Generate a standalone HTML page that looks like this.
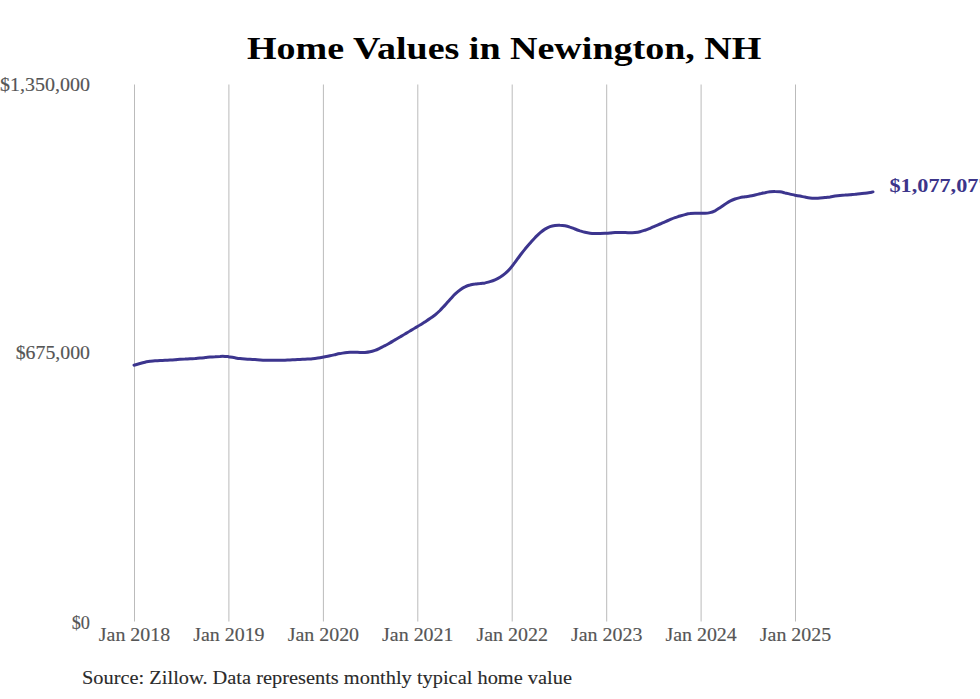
<!DOCTYPE html>
<html><head><meta charset="utf-8"><style>
html,body{margin:0;padding:0;background:#fff;width:980px;height:699px;overflow:hidden}
svg{display:block}
text{font-family:"Liberation Serif",serif}
</style></head><body>
<svg width="980" height="699" viewBox="0 0 980 699">
<rect width="980" height="699" fill="#fff"/>
<text x="247" y="59.3" font-size="32" font-weight="bold" fill="#000" textLength="514.4" lengthAdjust="spacingAndGlyphs">Home Values in Newington, NH</text>
<g stroke="#bbbbbb" stroke-width="1">
<line x1="134.5" y1="84.5" x2="134.5" y2="621.5"/>
<line x1="228.9" y1="84.5" x2="228.9" y2="621.5"/>
<line x1="323.4" y1="84.5" x2="323.4" y2="621.5"/>
<line x1="417.8" y1="84.5" x2="417.8" y2="621.5"/>
<line x1="512.2" y1="84.5" x2="512.2" y2="621.5"/>
<line x1="606.7" y1="84.5" x2="606.7" y2="621.5"/>
<line x1="701.1" y1="84.5" x2="701.1" y2="621.5"/>
<line x1="795.5" y1="84.5" x2="795.5" y2="621.5"/>
</g>
<g font-size="18.4" fill="#555555" stroke="#555555" stroke-width="0.15">
<text x="90" y="90.6" text-anchor="end" textLength="90" lengthAdjust="spacingAndGlyphs">$1,350,000</text>
<text x="90" y="358.6" text-anchor="end" textLength="74.3" lengthAdjust="spacingAndGlyphs">$675,000</text>
<text x="90" y="628.6" text-anchor="end" textLength="18.3" lengthAdjust="spacingAndGlyphs">$0</text>
<text x="134.5" y="640.7" text-anchor="middle" textLength="71.4" lengthAdjust="spacingAndGlyphs">Jan 2018</text>
<text x="228.9" y="640.7" text-anchor="middle" textLength="71.4" lengthAdjust="spacingAndGlyphs">Jan 2019</text>
<text x="323.4" y="640.7" text-anchor="middle" textLength="71.4" lengthAdjust="spacingAndGlyphs">Jan 2020</text>
<text x="417.8" y="640.7" text-anchor="middle" textLength="71.4" lengthAdjust="spacingAndGlyphs">Jan 2021</text>
<text x="512.2" y="640.7" text-anchor="middle" textLength="71.4" lengthAdjust="spacingAndGlyphs">Jan 2022</text>
<text x="606.7" y="640.7" text-anchor="middle" textLength="71.4" lengthAdjust="spacingAndGlyphs">Jan 2023</text>
<text x="701.1" y="640.7" text-anchor="middle" textLength="71.4" lengthAdjust="spacingAndGlyphs">Jan 2024</text>
<text x="795.5" y="640.7" text-anchor="middle" textLength="71.4" lengthAdjust="spacingAndGlyphs">Jan 2025</text>
</g>
<path d="M134.0,365.2 C135.0,364.9 138.2,364.0 140.0,363.5 C141.8,363.0 143.3,362.6 145.0,362.2 C146.7,361.8 148.3,361.6 150.0,361.3 C151.7,361.1 153.3,360.9 155.0,360.8 C156.7,360.7 158.3,360.6 160.0,360.5 C161.7,360.4 163.3,360.4 165.0,360.3 C166.7,360.2 168.3,360.2 170.0,360.1 C171.7,360.0 173.3,359.8 175.0,359.7 C176.7,359.6 178.3,359.4 180.0,359.3 C181.7,359.2 183.3,359.1 185.0,359.1 C186.7,359.0 188.3,358.9 190.0,358.8 C191.7,358.7 193.3,358.7 195.0,358.6 C196.7,358.4 198.3,358.3 200.0,358.1 C201.7,358.0 203.3,357.8 205.0,357.6 C206.7,357.4 208.3,357.3 210.0,357.1 C211.7,356.9 213.3,356.8 215.0,356.7 C216.7,356.5 218.3,356.4 220.0,356.4 C221.7,356.3 223.7,356.3 225.0,356.4 C226.3,356.4 227.2,356.5 228.0,356.6 C228.8,356.7 228.8,356.9 230.0,357.1 C231.2,357.3 233.3,357.6 235.0,357.8 C236.7,358.1 238.3,358.4 240.0,358.6 C241.7,358.8 243.3,358.9 245.0,359.0 C246.7,359.1 248.3,359.2 250.0,359.3 C251.7,359.4 253.3,359.5 255.0,359.6 C256.7,359.8 258.3,359.9 260.0,360.0 C261.7,360.1 263.3,360.2 265.0,360.2 C266.7,360.3 268.3,360.3 270.0,360.3 C271.7,360.4 273.3,360.3 275.0,360.3 C276.7,360.3 278.3,360.3 280.0,360.3 C281.7,360.3 283.3,360.2 285.0,360.2 C286.7,360.1 288.3,360.1 290.0,360.0 C291.7,359.9 293.3,359.8 295.0,359.7 C296.7,359.6 298.3,359.6 300.0,359.5 C301.7,359.4 303.3,359.3 305.0,359.2 C306.7,359.1 308.3,359.0 310.0,358.9 C311.7,358.7 313.3,358.6 315.0,358.4 C316.7,358.2 318.3,358.0 320.0,357.7 C321.7,357.4 323.3,357.1 325.0,356.8 C326.7,356.5 328.3,356.2 330.0,355.8 C331.7,355.5 333.3,355.1 335.0,354.7 C336.7,354.3 338.3,353.9 340.0,353.6 C341.7,353.2 343.3,352.9 345.0,352.7 C346.7,352.5 348.3,352.4 350.0,352.3 C351.7,352.3 353.3,352.3 355.0,352.3 C356.7,352.3 358.3,352.4 360.0,352.4 C361.7,352.4 363.3,352.5 365.0,352.4 C366.7,352.3 368.3,352.2 370.0,351.8 C371.7,351.5 373.3,351.0 375.0,350.4 C376.7,349.8 378.3,349.0 380.0,348.2 C381.7,347.4 383.3,346.5 385.0,345.6 C386.7,344.8 388.3,343.8 390.0,342.9 C391.7,341.9 393.3,340.9 395.0,339.9 C396.7,339.0 398.3,338.0 400.0,337.0 C401.7,336.0 403.3,335.0 405.0,334.0 C406.7,333.0 408.3,332.0 410.0,331.0 C411.7,330.0 413.3,329.0 415.0,328.0 C416.7,327.0 418.3,326.0 420.0,325.0 C421.7,324.0 423.3,322.9 425.0,321.9 C426.7,320.8 428.3,319.8 430.0,318.6 C431.7,317.5 433.3,316.3 435.0,315.0 C436.7,313.6 438.3,312.1 440.0,310.5 C441.7,308.8 443.3,306.9 445.0,305.1 C446.7,303.3 448.3,301.3 450.0,299.5 C451.7,297.7 453.3,295.8 455.0,294.2 C456.7,292.6 458.3,291.1 460.0,289.9 C461.7,288.7 463.3,287.7 465.0,286.9 C466.7,286.0 468.3,285.4 470.0,285.0 C471.7,284.5 473.3,284.3 475.0,284.1 C476.7,283.8 478.3,283.8 480.0,283.6 C481.7,283.3 483.3,283.2 485.0,282.9 C486.7,282.5 488.3,282.2 490.0,281.6 C491.7,281.1 493.3,280.6 495.0,279.8 C496.7,279.1 498.3,278.3 500.0,277.2 C501.7,276.2 503.3,275.1 505.0,273.7 C506.7,272.3 508.3,270.7 510.0,268.8 C511.7,266.9 513.3,264.6 515.0,262.4 C516.7,260.2 518.3,257.7 520.0,255.5 C521.7,253.3 523.3,251.2 525.0,249.1 C526.7,247.1 528.3,245.2 530.0,243.3 C531.7,241.4 533.3,239.4 535.0,237.7 C536.7,236.0 538.3,234.3 540.0,232.8 C541.7,231.4 543.3,230.1 545.0,229.1 C546.7,228.1 548.3,227.2 550.0,226.6 C551.7,226.0 553.3,225.7 555.0,225.5 C556.7,225.3 558.3,225.2 560.0,225.3 C561.7,225.3 563.3,225.4 565.0,225.7 C566.7,226.0 568.3,226.5 570.0,227.1 C571.7,227.6 573.3,228.4 575.0,229.0 C576.7,229.7 578.3,230.3 580.0,230.9 C581.7,231.4 583.3,231.9 585.0,232.3 C586.7,232.7 588.3,233.0 590.0,233.2 C591.7,233.4 593.3,233.4 595.0,233.4 C596.7,233.4 598.3,233.4 600.0,233.4 C601.7,233.4 603.3,233.4 605.0,233.3 C606.7,233.2 608.3,233.1 610.0,232.9 C611.7,232.8 613.3,232.6 615.0,232.5 C616.7,232.4 618.3,232.4 620.0,232.4 C621.7,232.4 623.3,232.5 625.0,232.5 C626.7,232.6 628.3,232.7 630.0,232.7 C631.7,232.7 633.3,232.8 635.0,232.6 C636.7,232.4 638.3,232.2 640.0,231.8 C641.7,231.4 643.3,230.8 645.0,230.2 C646.7,229.7 648.3,229.0 650.0,228.3 C651.7,227.6 653.3,226.8 655.0,226.1 C656.7,225.4 658.3,224.7 660.0,224.0 C661.7,223.3 663.3,222.5 665.0,221.8 C666.7,221.1 668.3,220.4 670.0,219.7 C671.7,219.0 673.3,218.3 675.0,217.7 C676.7,217.1 678.3,216.6 680.0,216.0 C681.7,215.5 683.3,215.0 685.0,214.6 C686.7,214.2 688.3,213.8 690.0,213.6 C691.7,213.3 693.3,213.2 695.0,213.2 C696.7,213.2 698.3,213.3 700.0,213.3 C701.7,213.3 703.3,213.4 705.0,213.3 C706.7,213.2 708.3,213.0 710.0,212.6 C711.7,212.2 713.3,211.6 715.0,210.8 C716.7,209.9 718.3,208.8 720.0,207.7 C721.7,206.6 723.3,205.3 725.0,204.2 C726.7,203.2 728.3,202.1 730.0,201.2 C731.7,200.4 733.3,199.7 735.0,199.0 C736.7,198.4 738.3,198.0 740.0,197.6 C741.7,197.2 743.3,197.1 745.0,196.8 C746.7,196.5 748.3,196.4 750.0,196.1 C751.7,195.8 753.3,195.4 755.0,195.0 C756.7,194.6 758.3,194.2 760.0,193.8 C761.7,193.4 763.3,193.0 765.0,192.7 C766.7,192.3 768.3,192.0 770.0,191.8 C771.7,191.6 773.3,191.4 775.0,191.5 C776.7,191.5 778.3,191.6 780.0,191.8 C781.7,192.1 783.3,192.5 785.0,192.9 C786.7,193.2 788.3,193.7 790.0,194.1 C791.7,194.5 793.3,194.8 795.0,195.2 C796.7,195.5 798.3,195.8 800.0,196.1 C801.7,196.4 803.3,196.8 805.0,197.1 C806.7,197.4 808.3,197.7 810.0,197.9 C811.7,198.1 813.3,198.2 815.0,198.3 C816.7,198.3 818.3,198.3 820.0,198.1 C821.7,198.0 823.3,197.9 825.0,197.6 C826.7,197.4 828.3,197.1 830.0,196.9 C831.7,196.6 833.3,196.3 835.0,196.0 C836.7,195.8 838.3,195.6 840.0,195.4 C841.7,195.3 843.3,195.2 845.0,195.1 C846.7,194.9 848.3,194.8 850.0,194.7 C851.7,194.6 853.3,194.4 855.0,194.3 C856.7,194.1 858.3,194.0 860.0,193.8 C861.7,193.7 863.3,193.5 865.0,193.3 C866.7,193.1 868.7,192.8 870.0,192.6 C871.3,192.3 872.5,192.0 873.0,191.9" fill="none" stroke="#3c358e" stroke-width="3" stroke-linecap="round" stroke-linejoin="round"/>
<text x="889.5" y="191.8" font-size="19.7" font-weight="bold" fill="#3c358a" textLength="100" lengthAdjust="spacingAndGlyphs">$1,077,077</text>
<text x="82" y="683.8" font-size="19.2" fill="#2a2a2a" stroke="#2a2a2a" stroke-width="0.1" textLength="490" lengthAdjust="spacingAndGlyphs">Source: Zillow. Data represents monthly typical home value</text>
</svg>
</body></html>
